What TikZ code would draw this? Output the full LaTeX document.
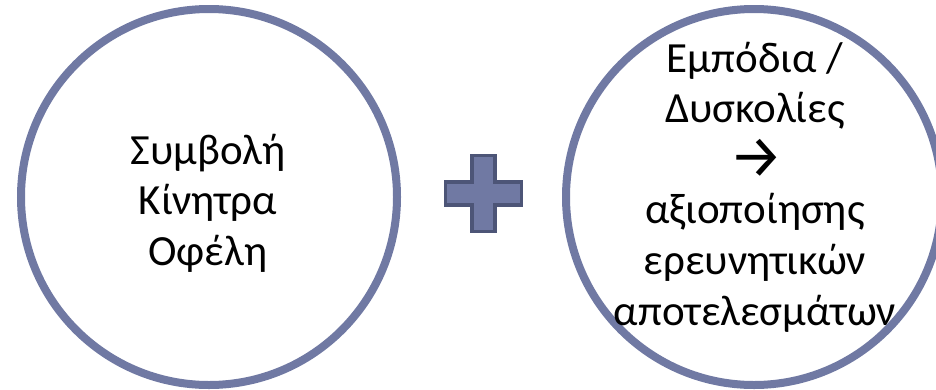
\documentclass[tikz,border=0pt]{standalone}
\usepackage{fontspec}
\setmainfont{Carlito}
\newfontfamily\arrowfont{Fira Sans}
\definecolor{ringcol}{HTML}{7079A3}
\definecolor{plusedge}{HTML}{4D5577}
\definecolor{plusfill}{HTML}{7079A3}
\tikzset{
  ring/.style={circle, draw=ringcol, line width=8pt, fill=white, minimum size=376pt, inner sep=0pt},
  txt/.style={anchor=base, inner sep=0pt, font=\fontsize{43}{50}\selectfont, text=black},
}
\begin{document}
\begin{tikzpicture}[x=1pt,y=-1pt]
\useasboundingbox (0,0) rectangle (936,389);
\clip (0,0) rectangle (936,389);
\node[ring] (left) at (209,197) {};
\node[ring] (right) at (754,197) {};
% plus sign
\coordinate (plus) at (483.5,193.5);
\draw[plusedge, fill=plusfill, line width=3.5pt, line join=miter]
  ([shift={(-11.5,-38)}]plus) -- ([shift={(11.5,-38)}]plus) -- ([shift={(11.5,-11.5)}]plus)
  -- ([shift={(38,-11.5)}]plus) -- ([shift={(38,11.5)}]plus) -- ([shift={(11.5,11.5)}]plus)
  -- ([shift={(11.5,38)}]plus) -- ([shift={(-11.5,38)}]plus) -- ([shift={(-11.5,11.5)}]plus)
  -- ([shift={(-38,11.5)}]plus) -- ([shift={(-38,-11.5)}]plus) -- ([shift={(-11.5,-11.5)}]plus) -- cycle;
% left text
\node[txt] (l1) at (208,164) {Συμβολή};
\node[txt] (l2) at (208,214) {Κίνητρα};
\node[txt] (l3) at (208,265) {Οφέλη};
% right text
\node[txt] (r1) at (755,72) {Εμπόδια /};
\node[txt] (r2) at (755,122) {Δυσκολίες};
\node[txt, font=\arrowfont\fontsize{60}{50}\selectfont] (r3) at (756,177) {→};
\node[txt] (r4) at (755,223) {αξιοποίησης};
\node[txt] (r5) at (755,274) {ερευνητικών};
\node[txt] (r6) at (755,325) {αποτελεσμάτων};
\end{tikzpicture}
\end{document}
